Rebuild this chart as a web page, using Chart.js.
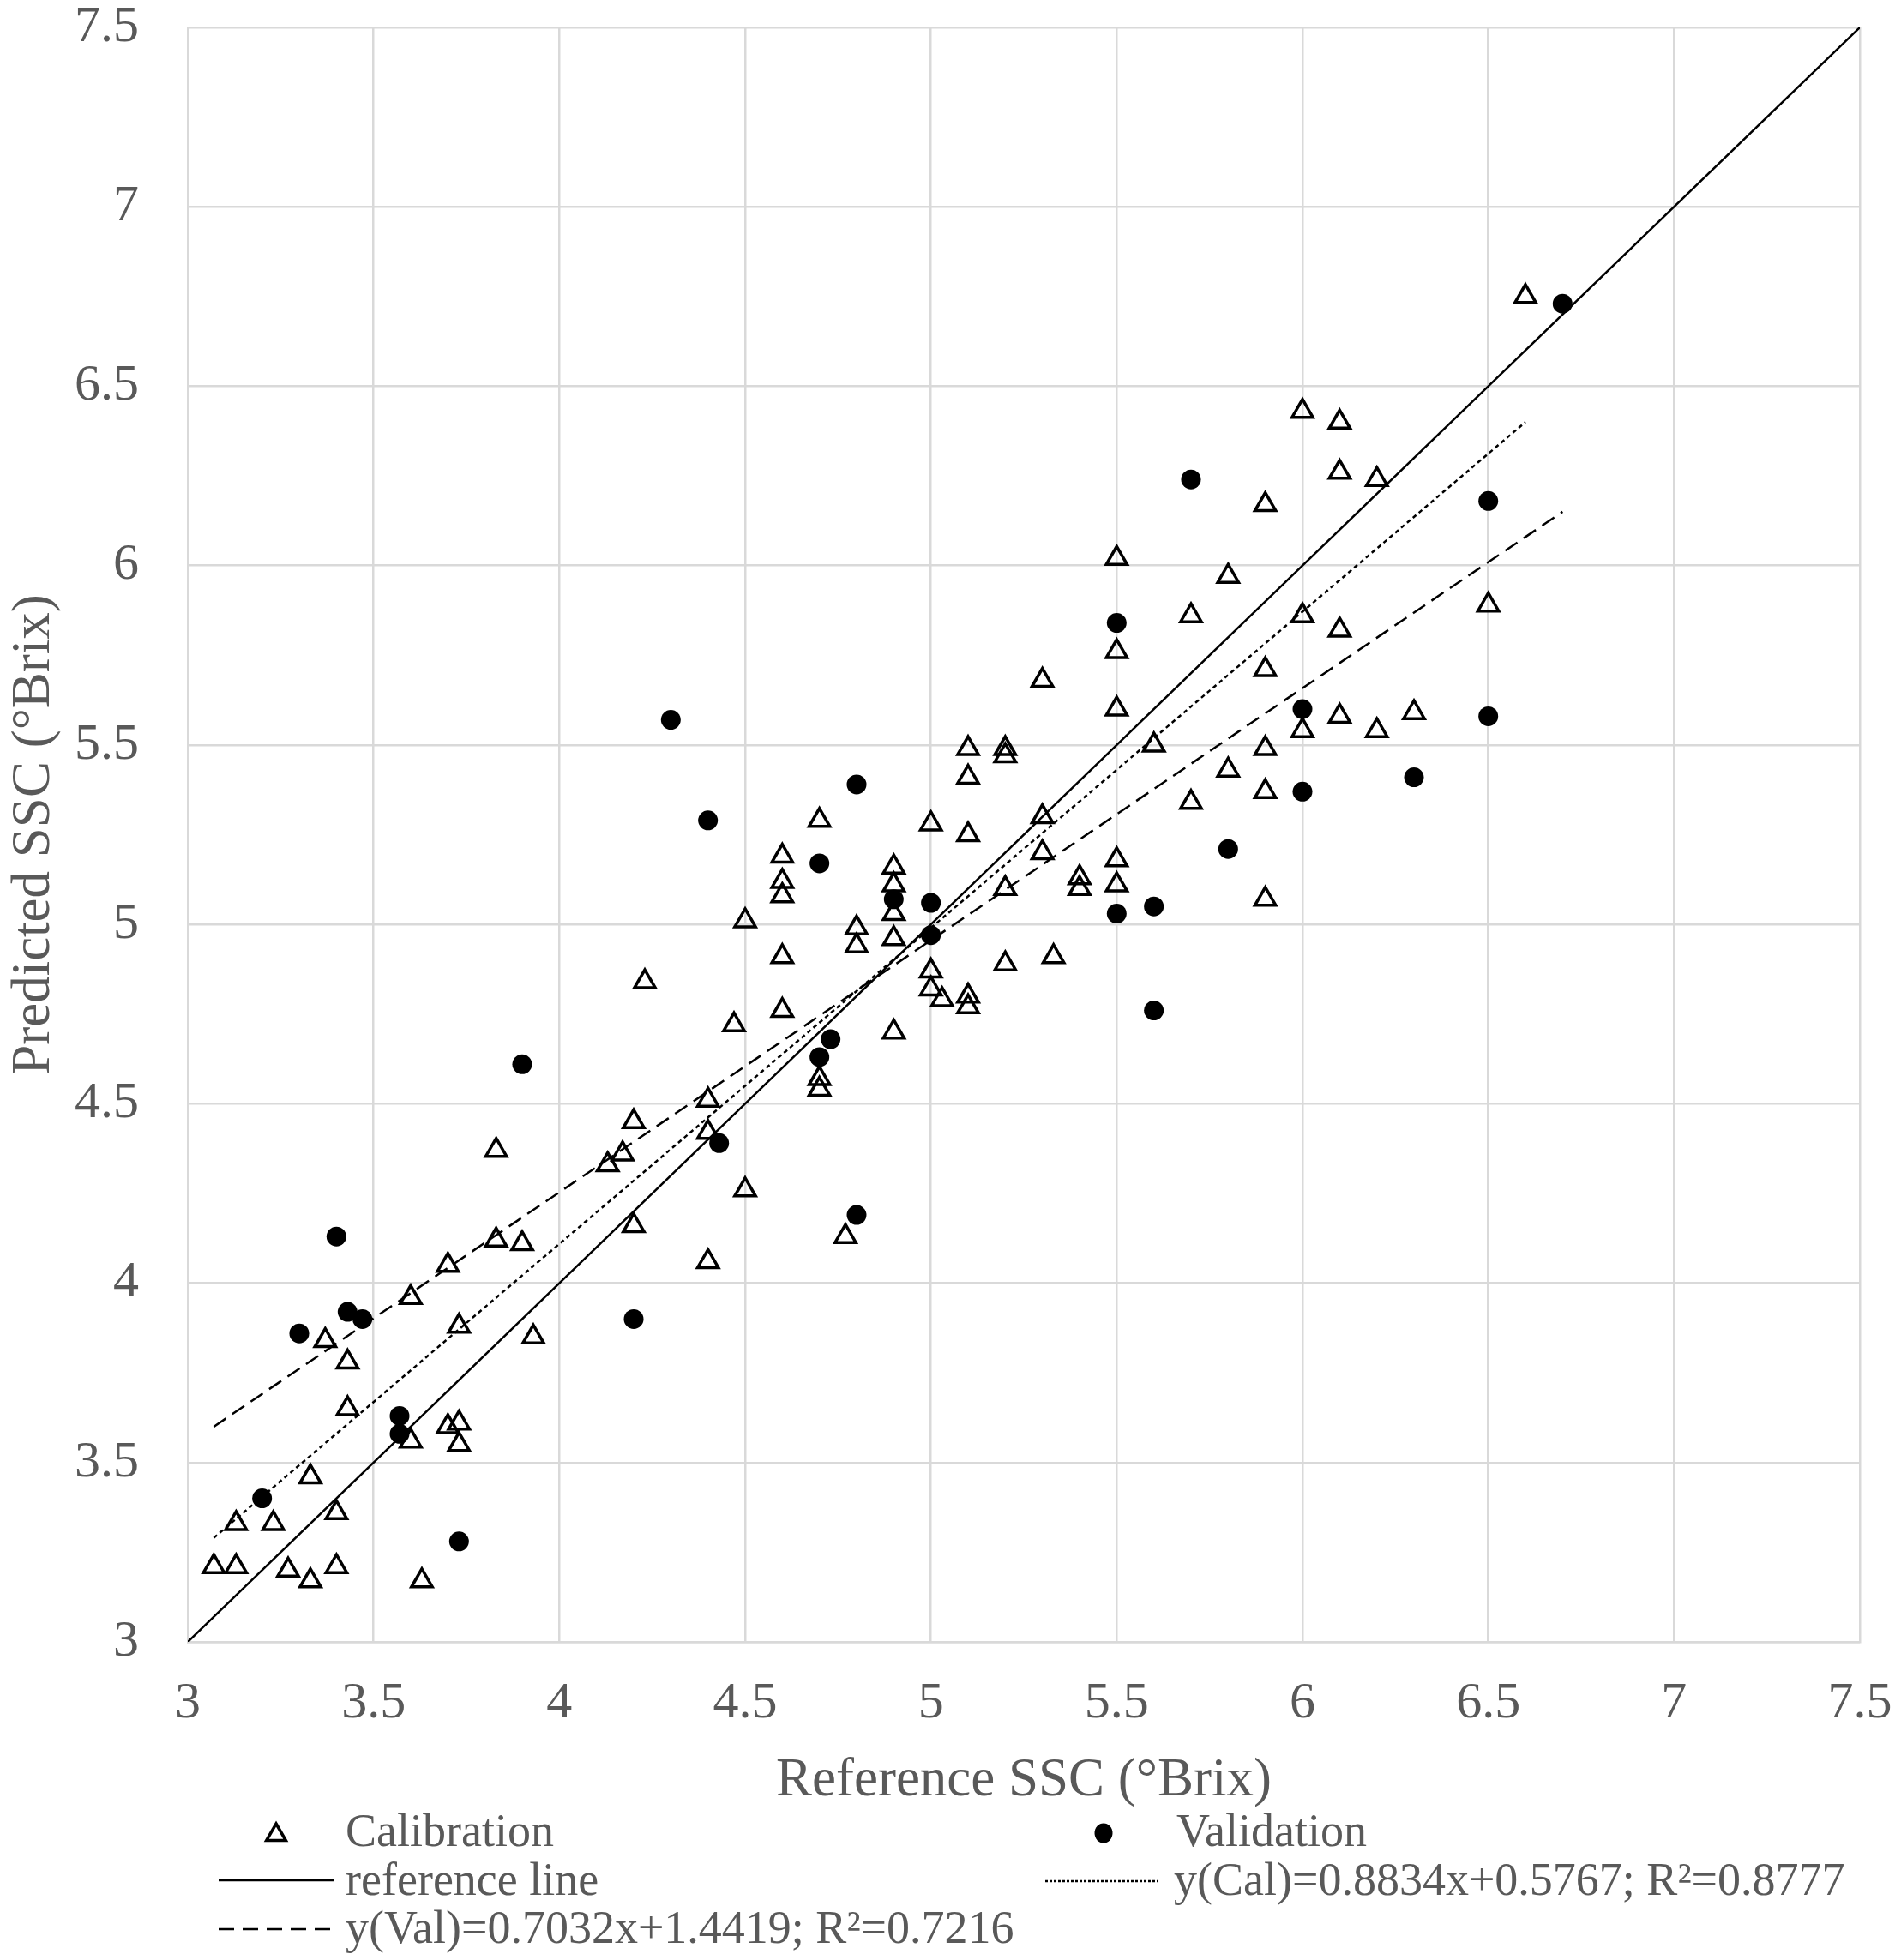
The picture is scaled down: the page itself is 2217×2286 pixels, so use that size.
<!DOCTYPE html>
<html>
<head>
<meta charset="utf-8">
<script src="https://cdn.jsdelivr.net/npm/chart.js@4.4.0/dist/chart.umd.min.js"></script>
<style>
  body { margin: 0; background: #fff; }
  #wrap { position: relative; width: 2217px; height: 2286px; font-family: 'Liberation Serif', 'Times New Roman', serif; color: #595959; }
  #myChart { position: absolute; left: 0; top: 0; }
  .lg { position: absolute; font-size: 54px; line-height: 1; white-space: nowrap; }
  .mk { position: absolute; overflow: visible; }
</style>
</head>
<body>
<div id="wrap">
  <canvas id="myChart" width="2217" height="2286"></canvas>

  <svg class="mk" style="left:300px;top:2118px" width="44" height="44">
    <polygon points="22,9 33.3,28.5 10.7,28.5" fill="none" stroke="#000" stroke-width="3.5"/>
  </svg>
  <div class="lg" style="left:403px;top:2108px">Calibration</div>

  <svg class="mk" style="left:1265px;top:2116px" width="44" height="44">
    <ellipse cx="22" cy="22" rx="10.5" ry="11.5" fill="#000"/>
  </svg>
  <div class="lg" style="left:1372px;top:2108px">Validation</div>

  <svg class="mk" style="left:255px;top:2183px" width="136" height="20">
    <line x1="0" y1="10" x2="134" y2="10" stroke="#000" stroke-width="2.5"/>
  </svg>
  <div class="lg" style="left:403px;top:2165px">reference line</div>

  <svg class="mk" style="left:1219px;top:2184px" width="134" height="20">
    <line x1="0" y1="10" x2="132" y2="10" stroke="#000" stroke-width="2.5" stroke-dasharray="3,2"/>
  </svg>
  <div class="lg" style="left:1369px;top:2165px">y(Cal)=0.8834x+0.5767; R²=0.8777</div>

  <svg class="mk" style="left:255px;top:2240px" width="140" height="20">
    <line x1="0" y1="10" x2="138" y2="10" stroke="#000" stroke-width="2.5" stroke-dasharray="18,10"/>
  </svg>
  <div class="lg" style="left:403px;top:2221px">y(Val)=0.7032x+1.4419; R²=0.7216</div>
</div>

<script>
// calibration set (reference SSC, predicted SSC)
const calX = [3.07, 3.13, 3.13, 3.23, 3.27, 3.33, 3.33, 3.37, 3.40, 3.40, 3.43, 3.43,
  3.60, 3.60, 3.63, 3.70, 3.70, 3.73, 3.73, 3.73, 3.83, 3.83, 3.90, 3.93,
  4.13, 4.17, 4.20, 4.20, 4.23, 4.40, 4.40, 4.40, 4.47, 4.50, 4.50,
  4.60, 4.60, 4.60, 4.60, 4.60, 4.70, 4.70, 4.70, 4.77, 4.80, 4.80,
  4.90, 4.90, 4.90, 4.90, 4.90, 5.00, 5.00, 5.00, 5.03,
  5.10, 5.10, 5.10, 5.10, 5.10, 5.20, 5.20, 5.20, 5.20,
  5.30, 5.30, 5.30, 5.33, 5.40, 5.40, 5.50, 5.50, 5.50, 5.50, 5.50,
  5.60, 5.70, 5.70, 5.80, 5.80, 5.90, 5.90, 5.90, 5.90, 5.90,
  6.00, 6.00, 6.00, 6.10, 6.10, 6.10, 6.10, 6.20, 6.20, 6.30, 6.50, 6.60];
const calY = [3.21, 3.21, 3.33, 3.33, 3.20, 3.17, 3.46, 3.84, 3.36, 3.21, 3.65, 3.78,
  3.96, 3.56, 3.17, 4.05, 3.60, 3.61, 3.55, 3.88, 4.37, 4.12, 4.11, 3.85,
  4.33, 4.36, 4.45, 4.16, 4.84, 4.51, 4.42, 4.06, 4.72, 5.01, 4.26,
  5.19, 5.12, 5.08, 4.91, 4.76, 5.29, 4.57, 4.54, 4.13, 4.99, 4.94,
  5.16, 5.11, 5.03, 4.96, 4.70, 5.28, 4.87, 4.82, 4.79,
  5.49, 5.41, 5.25, 4.80, 4.77, 5.49, 5.47, 5.10, 4.89,
  5.68, 5.30, 5.20, 4.91, 5.13, 5.10, 6.02, 5.76, 5.60, 5.18, 5.11,
  5.50, 5.86, 5.34, 5.97, 5.43, 6.17, 5.71, 5.49, 5.37, 5.07,
  6.43, 5.86, 5.54, 6.40, 6.26, 5.82, 5.58, 6.24, 5.54, 5.59, 5.89, 6.75];

// validation set
const valX = [3.20, 3.30, 3.40, 3.43, 3.47, 3.57, 3.57, 3.73, 3.90, 4.20, 4.30, 4.40,
  4.43, 4.70, 4.70, 4.73, 4.80, 4.80, 4.90, 5.00, 5.00, 5.50, 5.50, 5.60,
  5.60, 5.70, 5.80, 6.00, 6.00, 6.30, 6.50, 6.50, 6.70];
const valY = [3.40, 3.86, 4.13, 3.92, 3.90, 3.63, 3.58, 3.28, 4.61, 3.90, 5.57, 5.29,
  4.39, 5.17, 4.63, 4.68, 5.39, 4.19, 5.07, 5.06, 4.97, 5.84, 5.03, 5.05,
  4.76, 6.24, 5.21, 5.60, 5.37, 5.41, 6.18, 5.58, 6.73];

// line end points
const refLineX = [3, 7.5];
const refLineY = [3, 7.5];
const calFitX = [3.07, 6.60];
const calFitY = [3.29, 6.40];
const valFitX = [3.07, 6.70];
const valFitY = [3.60, 6.15];

const axisMin = 3;
const axisMax = 7.5;
const axisStep = 0.5;

const labels = ['Calibration', 'Validation', 'reference line',
  'y(Cal)=0.8834x+0.5767; R²=0.8777', 'y(Val)=0.7032x+1.4419; R²=0.7216'];

function toPoints(xs, ys) {
    return xs.map((x, i) => ({ x: x, y: ys[i] }));
}

const fontFamily = "'Liberation Serif', 'Times New Roman', serif";
const textColor = '#595959';
const gridColor = '#d9d9d9';

function tickLabel(value) {
    return String(Math.round(value * 10) / 10);
}

const ctx = document.getElementById('myChart').getContext('2d');
const chart = new Chart(ctx, {
    type: 'scatter',
    data: {
        datasets: [{
            label: labels[1],
            data: toPoints(valX, valY),
            pointStyle: 'circle',
            pointRadius: 11.5,
            pointBackgroundColor: '#000',
            pointBorderColor: '#000',
            pointBorderWidth: 0,
            order: 0
        }, {
            label: labels[0],
            data: toPoints(calX, calY),
            pointStyle: 'triangle',
            pointRadius: 14,
            pointBackgroundColor: 'rgba(0,0,0,0)',
            pointBorderColor: '#000',
            pointBorderWidth: 3.5,
            order: 1
        }, {
            label: labels[2],
            data: toPoints(refLineX, refLineY),
            showLine: true,
            borderColor: '#000',
            borderWidth: 2.5,
            pointRadius: 0,
            order: 2
        }, {
            label: labels[3],
            data: toPoints(calFitX, calFitY),
            showLine: true,
            borderColor: '#000',
            borderWidth: 2.5,
            borderDash: [5, 4],
            pointRadius: 0,
            order: 3
        }, {
            label: labels[4],
            data: toPoints(valFitX, valFitY),
            showLine: true,
            borderColor: '#000',
            borderWidth: 2.5,
            borderDash: [17, 9],
            pointRadius: 0,
            order: 4
        }]
    },
    options: {
        responsive: false,
        animation: false,
        devicePixelRatio: 1,
        layout: {
            padding: { top: 32, right: 48, left: 0, bottom: 171 }
        },
        plugins: {
            legend: { display: false },
            tooltip: { enabled: false }
        },
        scales: {
            x: {
                type: 'linear',
                min: axisMin,
                max: axisMax,
                afterFit: function (scale) {
                    scale.height = 200;
                    scale.paddingLeft = 0;
                    scale.paddingRight = 0;
                },
                ticks: {
                    stepSize: axisStep,
                    padding: 42,
                    color: textColor,
                    callback: tickLabel,
                    font: { family: fontFamily, size: 60, lineHeight: 1 }
                },
                grid: { color: gridColor, lineWidth: 2.5, drawTicks: false },
                border: { color: gridColor, width: 2.5 },
                title: {
                    display: true,
                    text: 'Reference SSC (°Brix)',
                    color: textColor,
                    padding: { top: 0, bottom: 0 },
                    font: { family: fontFamily, size: 63, lineHeight: 1.2 }
                }
            },
            y: {
                type: 'linear',
                min: axisMin,
                max: axisMax,
                afterFit: function (scale) {
                    scale.width = 219;
                    scale.paddingTop = 0;
                    scale.paddingBottom = 0;
                },
                ticks: {
                    stepSize: axisStep,
                    padding: 57,
                    color: textColor,
                    callback: tickLabel,
                    font: { family: fontFamily, size: 60, lineHeight: 1 }
                },
                grid: { color: gridColor, lineWidth: 2.5, drawTicks: false },
                border: { color: gridColor, width: 2.5 },
                title: {
                    display: true,
                    text: 'Predicted SSC (°Brix)',
                    color: textColor,
                    padding: { top: 3, bottom: 0 },
                    font: { family: fontFamily, size: 63, lineHeight: 1.2 }
                }
            }
        }
    }
});
</script>
</body>
</html>
